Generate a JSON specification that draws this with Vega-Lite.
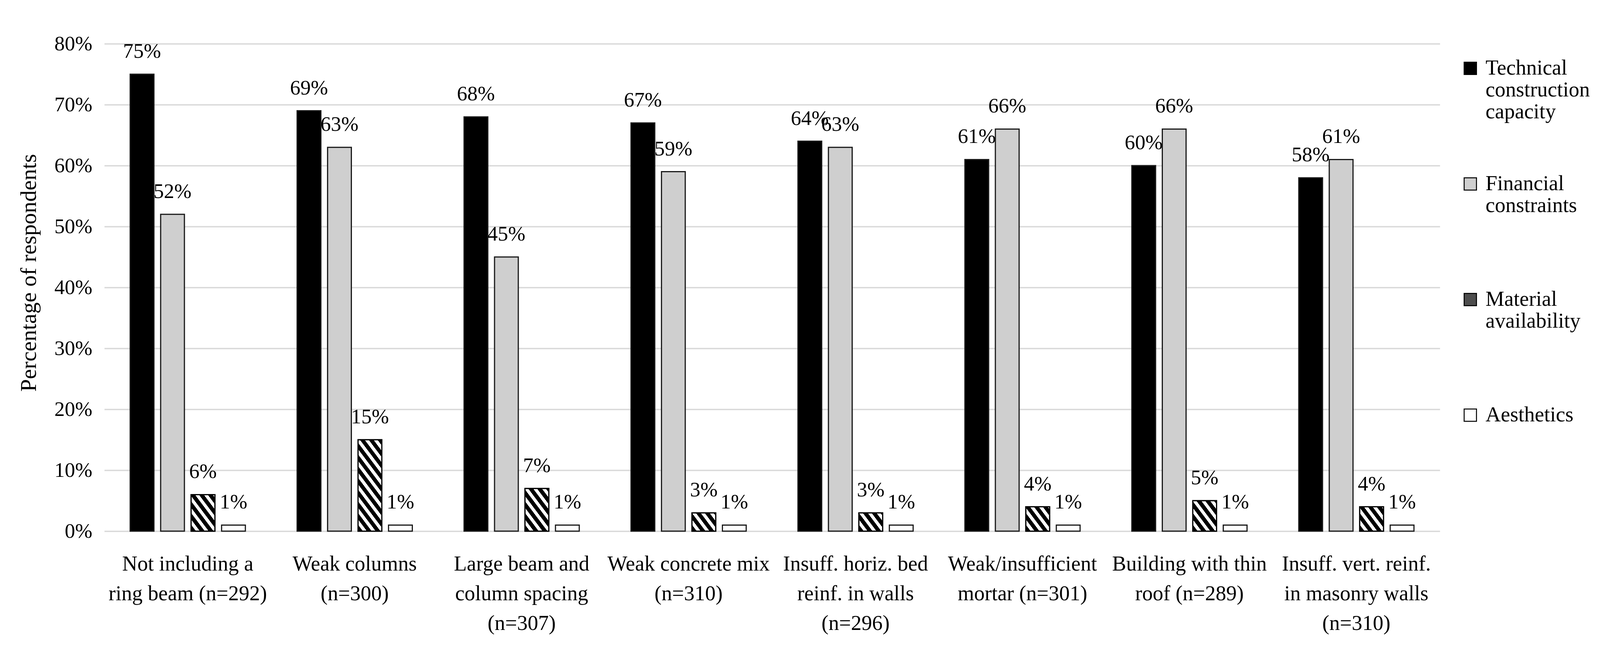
{
  "$schema": "https://vega.github.io/schema/vega-lite/v6.json",
  "autosize": {"type": "none"},
  "padding": {"left": 267, "top": 112, "right": 410, "bottom": 312},
  "width": 3419,
  "height": 1248,
  "background": "white",
  "config": {
    "view": {"stroke": null},
    "font": "Liberation Serif"
  },
  "data": {
    "values": [
      {"category": "Not including a ring beam (n=292)", "series": "Technical construction capacity", "value": 0.75},
      {"category": "Not including a ring beam (n=292)", "series": "Financial constraints", "value": 0.52},
      {"category": "Not including a ring beam (n=292)", "series": "Material availability", "value": 0.06},
      {"category": "Not including a ring beam (n=292)", "series": "Aesthetics", "value": 0.01},
      {"category": "Weak columns (n=300)", "series": "Technical construction capacity", "value": 0.69},
      {"category": "Weak columns (n=300)", "series": "Financial constraints", "value": 0.63},
      {"category": "Weak columns (n=300)", "series": "Material availability", "value": 0.15},
      {"category": "Weak columns (n=300)", "series": "Aesthetics", "value": 0.01},
      {"category": "Large beam and column spacing (n=307)", "series": "Technical construction capacity", "value": 0.68},
      {"category": "Large beam and column spacing (n=307)", "series": "Financial constraints", "value": 0.45},
      {"category": "Large beam and column spacing (n=307)", "series": "Material availability", "value": 0.07},
      {"category": "Large beam and column spacing (n=307)", "series": "Aesthetics", "value": 0.01},
      {"category": "Weak concrete mix (n=310)", "series": "Technical construction capacity", "value": 0.67},
      {"category": "Weak concrete mix (n=310)", "series": "Financial constraints", "value": 0.59},
      {"category": "Weak concrete mix (n=310)", "series": "Material availability", "value": 0.03},
      {"category": "Weak concrete mix (n=310)", "series": "Aesthetics", "value": 0.01},
      {"category": "Insuff. horiz. bed reinf. in walls (n=296)", "series": "Technical construction capacity", "value": 0.64},
      {"category": "Insuff. horiz. bed reinf. in walls (n=296)", "series": "Financial constraints", "value": 0.63},
      {"category": "Insuff. horiz. bed reinf. in walls (n=296)", "series": "Material availability", "value": 0.03},
      {"category": "Insuff. horiz. bed reinf. in walls (n=296)", "series": "Aesthetics", "value": 0.01},
      {"category": "Weak/insufficient mortar (n=301)", "series": "Technical construction capacity", "value": 0.61},
      {"category": "Weak/insufficient mortar (n=301)", "series": "Financial constraints", "value": 0.66},
      {"category": "Weak/insufficient mortar (n=301)", "series": "Material availability", "value": 0.04},
      {"category": "Weak/insufficient mortar (n=301)", "series": "Aesthetics", "value": 0.01},
      {"category": "Building with thin roof (n=289)", "series": "Technical construction capacity", "value": 0.60},
      {"category": "Building with thin roof (n=289)", "series": "Financial constraints", "value": 0.66},
      {"category": "Building with thin roof (n=289)", "series": "Material availability", "value": 0.05},
      {"category": "Building with thin roof (n=289)", "series": "Aesthetics", "value": 0.01},
      {"category": "Insuff. vert. reinf. in masonry walls (n=310)", "series": "Technical construction capacity", "value": 0.58},
      {"category": "Insuff. vert. reinf. in masonry walls (n=310)", "series": "Financial constraints", "value": 0.61},
      {"category": "Insuff. vert. reinf. in masonry walls (n=310)", "series": "Material availability", "value": 0.04},
      {"category": "Insuff. vert. reinf. in masonry walls (n=310)", "series": "Aesthetics", "value": 0.01}
    ]
  },
  "encoding": {
    "x": {
      "field": "category", "type": "nominal", "sort": null,
      "scale": {"paddingInner": 0.31, "paddingOuter": 0.155},
      "axis": {
        "title": null, "domain": false, "ticks": false, "labelAngle": 0,
        "labelPadding": 57, "labelBaseline": "top", "labelLineHeight": 76,
        "labelFont": "Liberation Serif", "labelFontSize": 54, "labelColor": "#000000", "labelLimit": 0,
        "labelExpr": "datum.label == 'Not including a ring beam (n=292)' ? ['Not including a', 'ring beam (n=292)'] : datum.label == 'Weak columns (n=300)' ? ['Weak columns', '(n=300)'] : datum.label == 'Large beam and column spacing (n=307)' ? ['Large beam and', 'column spacing', '(n=307)'] : datum.label == 'Weak concrete mix (n=310)' ? ['Weak concrete mix', '(n=310)'] : datum.label == 'Insuff. horiz. bed reinf. in walls (n=296)' ? ['Insuff. horiz. bed', 'reinf. in walls', '(n=296)'] : datum.label == 'Weak/insufficient mortar (n=301)' ? ['Weak/insufficient', 'mortar (n=301)'] : datum.label == 'Building with thin roof (n=289)' ? ['Building with thin', 'roof (n=289)'] : ['Insuff. vert. reinf.', 'in masonry walls', '(n=310)']"
      }
    },
    "xOffset": {
      "field": "series", "type": "nominal",
      "scale": {"domain": ["Technical construction capacity", "Financial constraints", "Material availability", "Aesthetics"], "paddingInner": 0.22, "paddingOuter": 0}
    },
    "y": {
      "field": "value", "type": "quantitative",
      "scale": {"domain": [0, 0.8], "nice": false},
      "axis": {
        "title": "Percentage of respondents", "titleFont": "Liberation Serif", "titleFontSize": 58,
        "titleFontWeight": "normal", "titleColor": "#000000", "titleX": -164, "titleY": 586,
        "format": ".0%", "values": [0, 0.1, 0.2, 0.3, 0.4, 0.5, 0.6, 0.7, 0.8],
        "domain": false, "ticks": false, "labelPadding": 31,
        "labelFont": "Liberation Serif", "labelFontSize": 53, "labelColor": "#000000",
        "grid": true, "gridColor": "#d9d9d9", "gridWidth": 3.5
      }
    }
  },
  "layer": [
    {
      "mark": {"type": "bar", "stroke": "#1a1a1a", "strokeWidth": 3},
      "encoding": {
        "fill": {
          "field": "series", "type": "nominal",
          "scale": {"domain": ["Technical construction capacity", "Financial constraints", "Material availability", "Aesthetics"], "range": ["#000000", "#cfcfcf", "#4d4d4d", "#ffffff"]},
          "legend": {
            "title": null, "orient": "none", "legendX": 3470, "legendY": 36,
            "symbolType": "square", "symbolSize": 1000, "symbolStrokeColor": "#000000", "symbolStrokeWidth": 2.5,
            "labelFont": "Liberation Serif", "labelFontSize": 54, "labelColor": "#000000",
            "labelOffset": 12, "labelLimit": 0, "labelBaseline": "middle",
            "gridAlign": "all", "rowPadding": 130, "padding": 0,
            "labelExpr": "split(datum.label, ' ')"
          }
        }
      }
    },
    {
      "transform": [{"filter": "datum.series == 'Material availability'"}],
      "mark": {"type": "bar", "stroke": "#000000", "strokeWidth": 3},
      "encoding": {
        "fill": {
          "condition": [
            {"test": "datum.value == 0.15", "value": {"gradient": "linear", "x1": 0, "y1": 1, "x2": 0.4161, "y2": -0.2021, "stops": [
              {"offset": 0, "color": "#000"}, {"offset": 0.0524, "color": "#000"}, {"offset": 0.0524, "color": "#fff"}, {"offset": 0.0952, "color": "#fff"},
              {"offset": 0.0952, "color": "#000"}, {"offset": 0.1476, "color": "#000"}, {"offset": 0.1476, "color": "#fff"}, {"offset": 0.1905, "color": "#fff"},
              {"offset": 0.1905, "color": "#000"}, {"offset": 0.2429, "color": "#000"}, {"offset": 0.2429, "color": "#fff"}, {"offset": 0.2857, "color": "#fff"},
              {"offset": 0.2857, "color": "#000"}, {"offset": 0.3381, "color": "#000"}, {"offset": 0.3381, "color": "#fff"}, {"offset": 0.3810, "color": "#fff"},
              {"offset": 0.3810, "color": "#000"}, {"offset": 0.4333, "color": "#000"}, {"offset": 0.4333, "color": "#fff"}, {"offset": 0.4762, "color": "#fff"},
              {"offset": 0.4762, "color": "#000"}, {"offset": 0.5286, "color": "#000"}, {"offset": 0.5286, "color": "#fff"}, {"offset": 0.5714, "color": "#fff"},
              {"offset": 0.5714, "color": "#000"}, {"offset": 0.6238, "color": "#000"}, {"offset": 0.6238, "color": "#fff"}, {"offset": 0.6667, "color": "#fff"},
              {"offset": 0.6667, "color": "#000"}, {"offset": 0.7190, "color": "#000"}, {"offset": 0.7190, "color": "#fff"}, {"offset": 0.7619, "color": "#fff"},
              {"offset": 0.7619, "color": "#000"}, {"offset": 0.8143, "color": "#000"}, {"offset": 0.8143, "color": "#fff"}, {"offset": 0.8571, "color": "#fff"},
              {"offset": 0.8571, "color": "#000"}, {"offset": 0.9095, "color": "#000"}, {"offset": 0.9095, "color": "#fff"}, {"offset": 0.9524, "color": "#fff"},
              {"offset": 0.9524, "color": "#000"}, {"offset": 1, "color": "#000"}
            ]}},
            {"test": "datum.value == 0.07", "value": {"gradient": "linear", "x1": 0, "y1": 1, "x2": 0.8334, "y2": -0.1236, "stops": [
              {"offset": 0, "color": "#000"}, {"offset": 0.0868, "color": "#000"}, {"offset": 0.0868, "color": "#fff"}, {"offset": 0.1577, "color": "#fff"},
              {"offset": 0.1577, "color": "#000"}, {"offset": 0.2445, "color": "#000"}, {"offset": 0.2445, "color": "#fff"}, {"offset": 0.3155, "color": "#fff"},
              {"offset": 0.3155, "color": "#000"}, {"offset": 0.4022, "color": "#000"}, {"offset": 0.4022, "color": "#fff"}, {"offset": 0.4732, "color": "#fff"},
              {"offset": 0.4732, "color": "#000"}, {"offset": 0.5599, "color": "#000"}, {"offset": 0.5599, "color": "#fff"}, {"offset": 0.6309, "color": "#fff"},
              {"offset": 0.6309, "color": "#000"}, {"offset": 0.7177, "color": "#000"}, {"offset": 0.7177, "color": "#fff"}, {"offset": 0.7886, "color": "#fff"},
              {"offset": 0.7886, "color": "#000"}, {"offset": 0.8754, "color": "#000"}, {"offset": 0.8754, "color": "#fff"}, {"offset": 0.9464, "color": "#fff"},
              {"offset": 0.9464, "color": "#000"}, {"offset": 1, "color": "#000"}
            ]}},
            {"test": "datum.value == 0.03", "value": {"gradient": "linear", "x1": 0, "y1": 1, "x2": 1.1829, "y2": 0.3165, "stops": [
              {"offset": 0, "color": "#000"}, {"offset": 0.1291, "color": "#000"}, {"offset": 0.1291, "color": "#fff"}, {"offset": 0.2347, "color": "#fff"},
              {"offset": 0.2347, "color": "#000"}, {"offset": 0.3639, "color": "#000"}, {"offset": 0.3639, "color": "#fff"}, {"offset": 0.4695, "color": "#fff"},
              {"offset": 0.4695, "color": "#000"}, {"offset": 0.5986, "color": "#000"}, {"offset": 0.5986, "color": "#fff"}, {"offset": 0.7042, "color": "#fff"},
              {"offset": 0.7042, "color": "#000"}, {"offset": 0.8333, "color": "#000"}, {"offset": 0.8333, "color": "#fff"}, {"offset": 0.9390, "color": "#fff"},
              {"offset": 0.9390, "color": "#000"}, {"offset": 1, "color": "#000"}
            ]}},
            {"test": "datum.value == 0.04", "value": {"gradient": "linear", "x1": 0, "y1": 1, "x2": 1.1110, "y2": 0.1441, "stops": [
              {"offset": 0, "color": "#000"}, {"offset": 0.1151, "color": "#000"}, {"offset": 0.1151, "color": "#fff"}, {"offset": 0.2092, "color": "#fff"},
              {"offset": 0.2092, "color": "#000"}, {"offset": 0.3243, "color": "#000"}, {"offset": 0.3243, "color": "#fff"}, {"offset": 0.4184, "color": "#fff"},
              {"offset": 0.4184, "color": "#000"}, {"offset": 0.5335, "color": "#000"}, {"offset": 0.5335, "color": "#fff"}, {"offset": 0.6276, "color": "#fff"},
              {"offset": 0.6276, "color": "#000"}, {"offset": 0.7427, "color": "#000"}, {"offset": 0.7427, "color": "#fff"}, {"offset": 0.8368, "color": "#fff"},
              {"offset": 0.8368, "color": "#000"}, {"offset": 0.9519, "color": "#000"}, {"offset": 0.9519, "color": "#fff"}, {"offset": 1, "color": "#fff"}
            ]}},
            {"test": "datum.value == 0.05", "value": {"gradient": "linear", "x1": 0, "y1": 1, "x2": 1.0185, "y2": 0.0192, "stops": [
              {"offset": 0, "color": "#000"}, {"offset": 0.1038, "color": "#000"}, {"offset": 0.1038, "color": "#fff"}, {"offset": 0.1887, "color": "#fff"},
              {"offset": 0.1887, "color": "#000"}, {"offset": 0.2925, "color": "#000"}, {"offset": 0.2925, "color": "#fff"}, {"offset": 0.3774, "color": "#fff"},
              {"offset": 0.3774, "color": "#000"}, {"offset": 0.4811, "color": "#000"}, {"offset": 0.4811, "color": "#fff"}, {"offset": 0.5660, "color": "#fff"},
              {"offset": 0.5660, "color": "#000"}, {"offset": 0.6698, "color": "#000"}, {"offset": 0.6698, "color": "#fff"}, {"offset": 0.7547, "color": "#fff"},
              {"offset": 0.7547, "color": "#000"}, {"offset": 0.8585, "color": "#000"}, {"offset": 0.8585, "color": "#fff"}, {"offset": 0.9434, "color": "#fff"},
              {"offset": 0.9434, "color": "#000"}, {"offset": 1, "color": "#000"}
            ]}}
          ],
          "value": {"gradient": "linear", "x1": 0, "y1": 1, "x2": 0.9230, "y2": -0.0666, "stops": [
            {"offset": 0, "color": "#000"}, {"offset": 0.0945, "color": "#000"}, {"offset": 0.0945, "color": "#fff"}, {"offset": 0.1718, "color": "#fff"},
            {"offset": 0.1718, "color": "#000"}, {"offset": 0.2663, "color": "#000"}, {"offset": 0.2663, "color": "#fff"}, {"offset": 0.3436, "color": "#fff"},
            {"offset": 0.3436, "color": "#000"}, {"offset": 0.4381, "color": "#000"}, {"offset": 0.4381, "color": "#fff"}, {"offset": 0.5155, "color": "#fff"},
            {"offset": 0.5155, "color": "#000"}, {"offset": 0.6100, "color": "#000"}, {"offset": 0.6100, "color": "#fff"}, {"offset": 0.6873, "color": "#fff"},
            {"offset": 0.6873, "color": "#000"}, {"offset": 0.7818, "color": "#000"}, {"offset": 0.7818, "color": "#fff"}, {"offset": 0.8591, "color": "#fff"},
            {"offset": 0.8591, "color": "#000"}, {"offset": 0.9536, "color": "#000"}, {"offset": 0.9536, "color": "#fff"}, {"offset": 1, "color": "#fff"}
          ]}
        }
      }
    },
    {
      "mark": {"type": "text", "baseline": "alphabetic", "dy": -42, "font": "Liberation Serif", "fontSize": 53, "color": "#000000"},
      "encoding": {
        "text": {"field": "value", "type": "quantitative", "format": ".0%"}
      }
    }
  ]
}
